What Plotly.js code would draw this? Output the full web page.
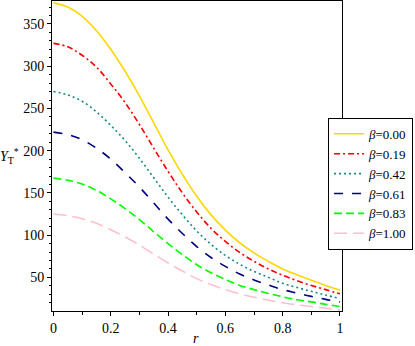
<!DOCTYPE html>
<html>
<head>
<meta charset="utf-8">
<script src="https://cdn.plot.ly/plotly-3.0.1.min.js"></script>
<style>
  html, body { margin: 0; padding: 0; background: #fff; }
  #chart { width: 415px; height: 346px; }
</style>
</head>
<body>
<div id="chart"></div>
<script>
// radius values along the x axis
var r = [0, 0.05, 0.1, 0.15, 0.2, 0.25, 0.3, 0.35, 0.4, 0.45, 0.5,
         0.55, 0.6, 0.65, 0.7, 0.75, 0.8, 0.85, 0.9, 0.95, 1];

// Y_T*, one array per beta
var beta000 = [375, 370, 359, 342, 320, 294, 265, 233, 201, 172, 146, 124, 106, 91, 79, 69, 60, 53, 46.5, 40.5, 35];
var beta019 = [327, 323, 313, 299, 279, 257, 231, 203, 175.5, 150, 127.5, 108, 92.5, 79.5, 69, 60, 52.5, 46, 40.5, 35.5, 30.5];
var beta042 = [270, 266, 258.5, 246, 230, 212, 191, 168, 145, 124, 105, 89, 76, 65.5, 57, 50, 43, 38, 33.5, 29, 25];
var beta061 = [222, 219, 213, 203, 190, 174, 157, 138, 119, 102, 86.5, 73.5, 63, 54, 47, 41, 35.5, 31.5, 27.5, 24, 21];
var beta083 = [167.5, 165, 160.5, 153, 143, 131.5, 118.5, 104, 90, 77, 65, 55.5, 47.5, 40.5, 35.5, 31, 27, 23.5, 21, 18, 15.5];
var beta100 = [125, 123, 119.5, 114, 106.5, 98, 88.5, 77.5, 67, 57.5, 48.5, 41.5, 35.5, 30.5, 26.5, 23, 20, 17.5, 15.5, 13.5, 11.5];

var labels = ['0.00', '0.19', '0.42', '0.61', '0.83', '1.00'];
var series = [beta000, beta019, beta042, beta061, beta083, beta100];
var colors = ['#FFD700', '#FF0000', '#168A80', '#000080', '#00FF00', '#FFC0CB'];
var dashes = ['solid', '6px,3px,2px,3px', '2px,3px', '9px,9px', '8px,4px', '13px,6px'];

var serif = '"Times New Roman", "Liberation Serif", "DejaVu Serif", serif';

var data = [];
for (var i = 0; i < series.length; i++) {
    data.push({
        x: r,
        y: series[i],
        type: 'scatter',
        mode: 'lines',
        line: { color: colors[i], width: 1.6, dash: dashes[i], shape: 'spline' },
        name: '<i>β</i>=' + labels[i]
    });
}

var layout = {
    width: 415,
    height: 346,
    margin: { l: 52, r: 73, t: 1, b: 35 },
    paper_bgcolor: '#fff',
    plot_bgcolor: '#fff',
    font: { family: serif, size: 14, color: '#000' },
    showlegend: true,
    legend: {
        x: 1.245, y: 0.623, xanchor: 'right', yanchor: 'top',
        bgcolor: '#fff',
        bordercolor: '#000', borderwidth: 1,
        font: { family: serif, size: 13, color: '#000' },
        itemwidth: 30,
        tracegroupgap: 0
    },
    xaxis: {
        range: [-0.005, 1.007],
        tickvals: [0, 0.2, 0.4, 0.6, 0.8, 1],
        ticktext: ['0', '0.2', '0.4', '0.6', '0.8', '1'],
        ticks: 'outside', ticklen: 4, tickcolor: '#000',
        minor: { dtick: 0.1, ticks: 'outside', ticklen: 3, tickcolor: '#000' },
        showline: true, linecolor: '#000', linewidth: 1, mirror: true,
        showgrid: false, zeroline: false
    },
    yaxis: {
        range: [10.2, 377.2],
        tickvals: [50, 100, 150, 200, 250, 300, 350],
        ticks: 'outside', ticklen: 4, tickcolor: '#000',
        minor: { dtick: 10, tick0: 0, ticks: 'outside', ticklen: 2, tickcolor: '#000' },
        showline: true, linecolor: '#000', linewidth: 1, mirror: true,
        showgrid: false, zeroline: false
    },
    annotations: [
        {
            text: '<i>Y</i><sub>T</sub><sup>*</sup>',
            xref: 'paper', yref: 'paper',
            x: -0.145, y: 0.5, xanchor: 'center', yanchor: 'middle',
            showarrow: false, font: { family: serif, size: 14 }
        },
        {
            text: '<i>r</i>',
            xref: 'paper', yref: 'paper',
            x: 0.496, y: -0.09, xanchor: 'center', yanchor: 'middle',
            showarrow: false, font: { family: serif, size: 14 }
        }
    ]
};

Plotly.newPlot('chart', data, layout, { displayModeBar: false, staticPlot: true });
</script>
</body>
</html>
